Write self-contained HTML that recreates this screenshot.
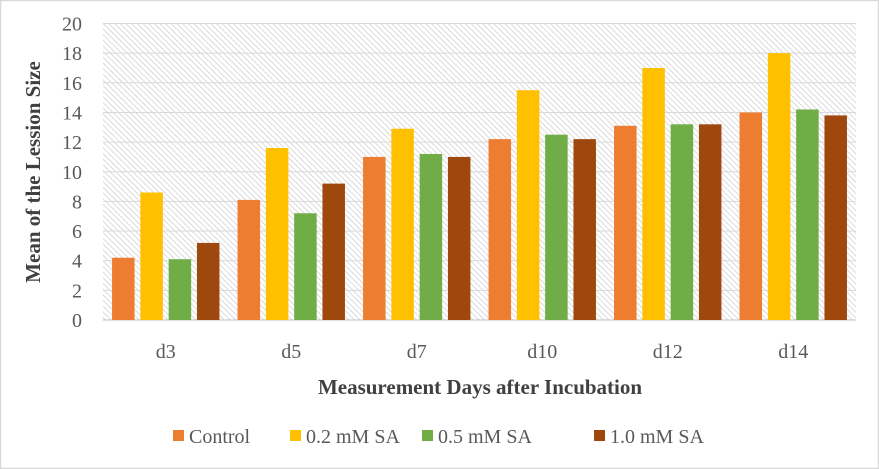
<!DOCTYPE html>
<html><head><meta charset="utf-8"><style>
body{margin:0;background:#fff}
svg{display:block;font-family:"Liberation Serif",serif}
</style></head><body>
<svg width="879" height="469" xmlns="http://www.w3.org/2000/svg">
<defs>
<pattern id="hatch" width="4" height="4" patternUnits="userSpaceOnUse" patternTransform="rotate(-45)">
<rect width="4" height="4" fill="#fff"/>
<line x1="0" y1="0" x2="0" y2="4" stroke="#c8c8c8" stroke-width="1.3"/>
</pattern>
</defs>
<rect x="0.5" y="0.5" width="878" height="468" fill="#fff" stroke="#d9d9d9" stroke-width="1.5"/>
<rect x="103" y="23.5" width="753" height="296.5" fill="url(#hatch)"/>
<g id="grid"></g>
<g id="bars"></g>
<g id="yticks"></g>
<g id="xticks"></g>
<text x="40" y="172" transform="rotate(-90 40 172)" text-anchor="middle" font-size="21" font-weight="bold" fill="#404040">Mean of the Lession Size</text>
<text x="480" y="394" text-anchor="middle" font-size="21" font-weight="bold" fill="#404040">Measurement Days after Incubation</text>
<g id="legend"></g>
</svg>
<script>
const categories=["d3","d5","d7","d10","d12","d14"];
const seriesNames=["Control","0.2 mM SA","0.5 mM SA","1.0 mM SA"];
const control=[4.2,8.1,11.0,12.2,13.1,14.0];
const sa02=[8.6,11.6,12.9,15.5,17.0,18.0];
const sa05=[4.1,7.2,11.2,12.5,13.2,14.2];
const sa10=[5.2,9.2,11.0,12.2,13.2,13.8];
const yTicks=[0,2,4,6,8,10,12,14,16,18,20];
const colors=["#ed7d31","#ffc000","#70ad47","#9e480e"];
const series=[control,sa02,sa05,sa10];
const NS="http://www.w3.org/2000/svg";
const X0=103,X1=856,Y0=320,Y1=23.5,YMAX=20;
const y=v=>Y0-(v/YMAX)*(Y0-Y1);
const cw=(X1-X0)/categories.length;
const bw=22.5,pitch=28.3;
const x=(ci,si)=>X0+ci*cw+(cw-(3*pitch+bw))/2+si*pitch;
function mk(tag,attrs,parent){const e=document.createElementNS(NS,tag);for(const k in attrs)e.setAttribute(k,attrs[k]);document.getElementById(parent).appendChild(e);return e;}
yTicks.forEach(t=>{
 const l=mk('line',{x1:X0,x2:X1,y1:y(t),y2:y(t),stroke:t===0?'#bfbfbf':'#d9d9d9','stroke-width':1},'grid');
 
 
 const tx=mk('text',{x:82,y:y(t)+7,'text-anchor':'end','font-size':20,fill:'#595959'},'yticks');
 tx.textContent=t;
 
 
});
categories.forEach((c,ci)=>{
 series.forEach((s,si)=>{
  const r=mk('rect',{x:x(ci,si),y:y(s[ci]),width:bw,height:Y0-y(s[ci]),fill:colors[si]},'bars');
  
  
 });
 const tx=mk('text',{x:X0+ci*cw+cw/2,y:358,'text-anchor':'middle','font-size':20,fill:'#595959'},'xticks');
 tx.textContent=c;
 
 
});
const lx=[173,290,422,594];
seriesNames.forEach((n,i)=>{
 const r=mk('rect',{x:lx[i],y:430,width:11,height:11,fill:colors[i]},'legend');
 
 
 const t=mk('text',{x:lx[i]+16,y:443,'font-size':20,fill:'#595959'},'legend');
 t.textContent=n;
 
 
});
</script>
</body></html>
